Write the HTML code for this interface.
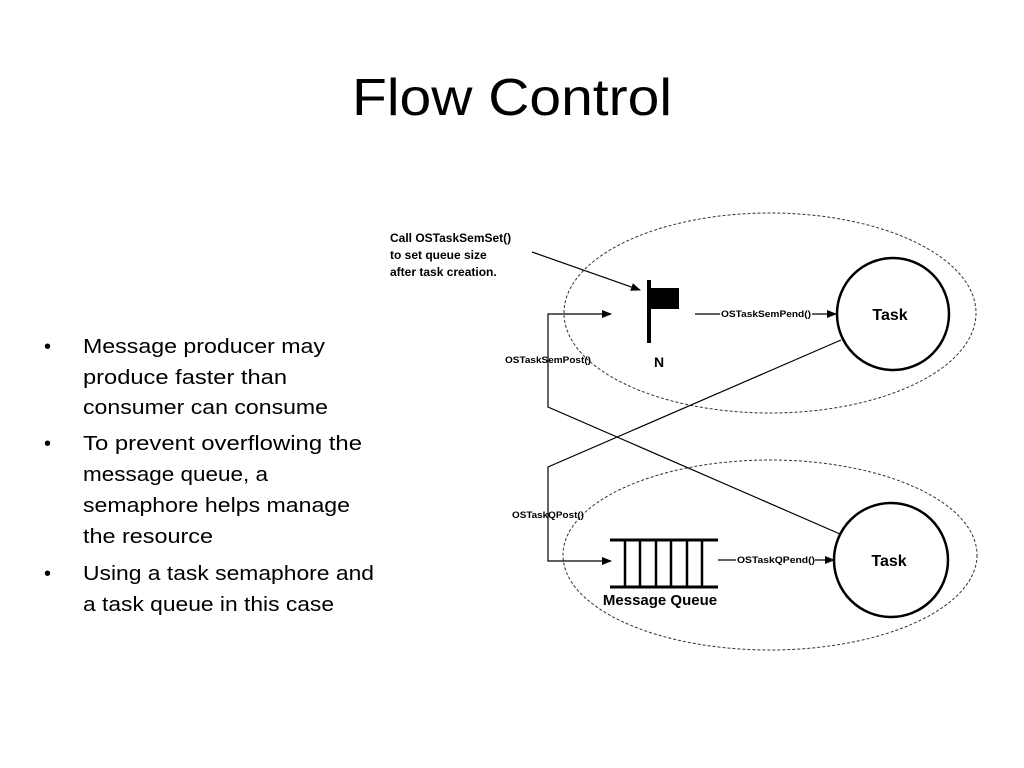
<!DOCTYPE html>
<html><head><meta charset="utf-8"><style>
html,body{margin:0;padding:0;background:#fff;}
svg{display:block;}
</style></head><body>
<svg width="1024" height="768" viewBox="0 0 1024 768" xmlns="http://www.w3.org/2000/svg">
<defs>
<marker id="ah" markerWidth="10" markerHeight="8" refX="9" refY="4" orient="auto" markerUnits="userSpaceOnUse">
<path d="M0,0 L10,4 L0,8 z" fill="#000"/></marker>
</defs>
<text x="512" y="115" font-family="Liberation Sans, sans-serif" font-size="52" text-anchor="middle" textLength="320" lengthAdjust="spacingAndGlyphs">Flow Control</text>
<g font-family="Liberation Sans, sans-serif" font-size="20" fill="#000">
<text x="44" y="353">•</text><text x="44" y="450">•</text><text x="44" y="580">•</text>
<text x="83" y="353" textLength="242" lengthAdjust="spacingAndGlyphs">Message producer may</text>
<text x="83" y="384" textLength="204" lengthAdjust="spacingAndGlyphs">produce faster than</text>
<text x="83" y="414" textLength="245" lengthAdjust="spacingAndGlyphs">consumer can consume</text>
<text x="83" y="450" textLength="279" lengthAdjust="spacingAndGlyphs">To prevent overflowing the</text>
<text x="83" y="481" textLength="185" lengthAdjust="spacingAndGlyphs">message queue, a</text>
<text x="83" y="512" textLength="267" lengthAdjust="spacingAndGlyphs">semaphore helps manage</text>
<text x="83" y="543" textLength="130" lengthAdjust="spacingAndGlyphs">the resource</text>
<text x="83" y="580" textLength="291" lengthAdjust="spacingAndGlyphs">Using a task semaphore and</text>
<text x="83" y="611" textLength="251" lengthAdjust="spacingAndGlyphs">a task queue in this case</text>
</g>
<g fill="none" stroke="#333" stroke-width="1" stroke-dasharray="3,2">
<ellipse cx="770" cy="313" rx="206" ry="100"/>
<ellipse cx="770" cy="555" rx="207" ry="95"/>
</g>
<g fill="none" stroke="#000">
<circle cx="893" cy="314" r="56" stroke-width="2.5"/>
<circle cx="891" cy="560" r="57" stroke-width="2.5"/>
<line x1="532" y1="252" x2="640" y2="290" stroke-width="1.2" marker-end="url(#ah)"/>
<line x1="695" y1="314" x2="720" y2="314" stroke-width="1.2"/>
<line x1="812" y1="314" x2="836" y2="314" stroke-width="1.2" marker-end="url(#ah)"/>
<line x1="718" y1="560" x2="736" y2="560" stroke-width="1.2"/>
<line x1="815" y1="560" x2="834" y2="560" stroke-width="1.2" marker-end="url(#ah)"/>
<polyline points="840,534 548,407 548,314 611,314" stroke-width="1.2" marker-end="url(#ah)"/>
<polyline points="841,340 548,467 548,561 611,561" stroke-width="1.2" marker-end="url(#ah)"/>
<line x1="649" y1="280" x2="649" y2="343" stroke-width="4"/>
<line x1="610" y1="540" x2="718" y2="540" stroke-width="3"/>
<line x1="610" y1="587" x2="718" y2="587" stroke-width="3"/>
<g stroke-width="2.5">
<line x1="625" y1="540" x2="625" y2="587"/><line x1="640" y1="540" x2="640" y2="587"/>
<line x1="656" y1="540" x2="656" y2="587"/><line x1="671" y1="540" x2="671" y2="587"/>
<line x1="687" y1="540" x2="687" y2="587"/><line x1="702" y1="540" x2="702" y2="587"/>
</g>
</g>
<rect x="649" y="288" width="30" height="21" fill="#000"/>
<g font-family="Liberation Sans, sans-serif" font-weight="bold" fill="#000">
<text x="390" y="242" font-size="12">Call OSTaskSemSet()</text>
<text x="390" y="259" font-size="12">to set queue size</text>
<text x="390" y="276" font-size="12">after task creation.</text>
<text x="659" y="367" font-size="14" text-anchor="middle">N</text>
<text x="890" y="320" font-size="16" text-anchor="middle">Task</text>
<text x="889" y="566" font-size="16" text-anchor="middle">Task</text>
<text x="660" y="605" font-size="15" text-anchor="middle">Message Queue</text>
<g font-size="9">
<text x="766" y="317" text-anchor="middle" textLength="90" lengthAdjust="spacingAndGlyphs">OSTaskSemPend()</text>
<text x="776" y="563" text-anchor="middle" textLength="78" lengthAdjust="spacingAndGlyphs">OSTaskQPend()</text>
<text x="548" y="363" text-anchor="middle" textLength="86" lengthAdjust="spacingAndGlyphs">OSTaskSemPost()</text>
<text x="548" y="518" text-anchor="middle" textLength="72" lengthAdjust="spacingAndGlyphs">OSTaskQPost()</text>
</g>
</g>
</svg>
</body></html>
